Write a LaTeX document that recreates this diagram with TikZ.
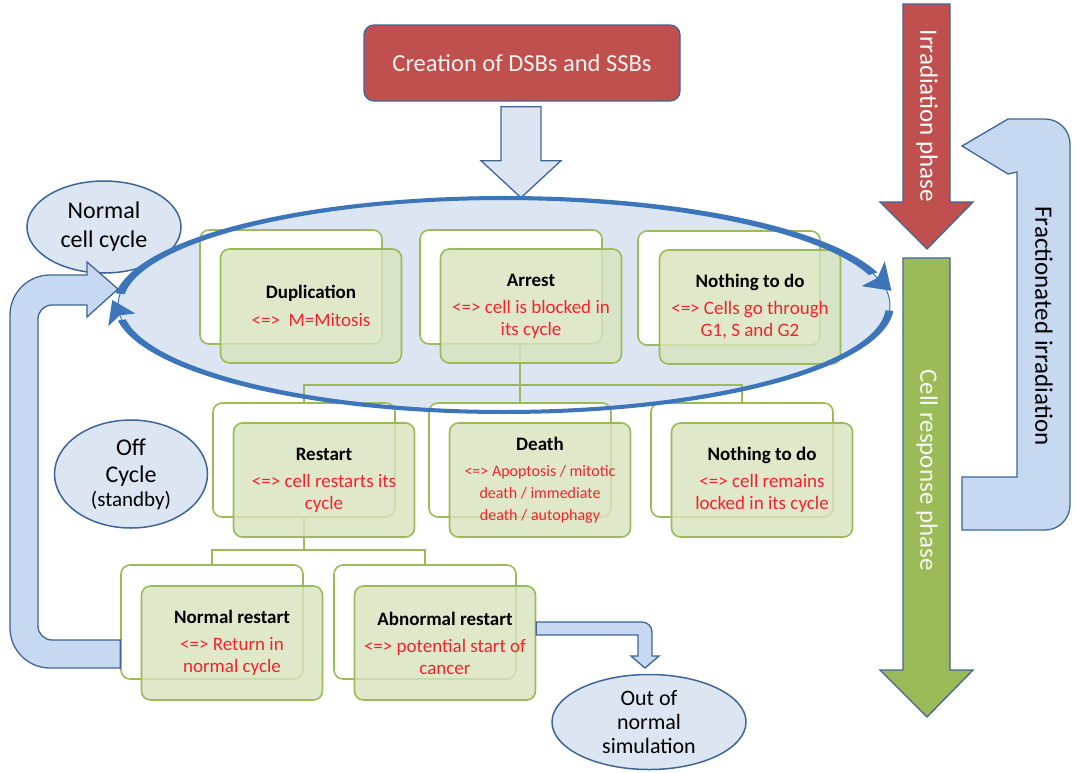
\documentclass[tikz,border=0pt]{standalone}
\usepackage{fontspec}
\setmainfont{Carlito}
\usetikzlibrary{arrows.meta,calc,shapes.geometric}
\definecolor{redfill}{HTML}{C0504D}
\definecolor{greenfill}{HTML}{9BBB59}
\definecolor{edgeblue}{HTML}{3F6597}
\definecolor{lightblue}{HTML}{DCE6F2}
\definecolor{bentblue}{HTML}{C6D9F1}
\definecolor{arcblue}{HTML}{3D75BA}
\definecolor{boxgreen}{HTML}{9BBB59}
\definecolor{boxfill}{HTML}{D7E4BD}
\definecolor{txtred}{HTML}{F5222D}
\newcommand\rdt{\color{txtred}}
\newcommand\smallrd{\fontsize{16}{17}\selectfont\color{txtred}}
\tikzset{
  declare function={ttop(\t)=9-5*sin((\t-186)*1.1465); tbot(\t)=8-4*sin((\t-3)*1.0651);},
  backbox/.style={draw=boxgreen, line width=1.6pt, fill=white, rounded corners=9pt,
    minimum width=182pt, minimum height=114pt, inner sep=0pt},
  frontbox/.style={draw=boxgreen, line width=1.6pt, fill=boxfill, fill opacity=0.8,
    text opacity=1, rounded corners=9pt, minimum width=181pt, minimum height=114pt,
    align=center, inner sep=0pt, font=\fontsize{19}{22}\selectfont},
  conn/.style={draw=boxgreen, line width=1.6pt},
  oval/.style={ellipse, draw=edgeblue, line width=1.5pt, fill=lightblue, align=center,
    font=\fontsize{24}{29}\selectfont, inner sep=0pt},
  blockarrow/.style={draw=edgeblue, line width=1.3pt, line join=miter},
  redbox/.style={rounded corners=10pt, fill=redfill, draw=edgeblue, line width=1.3pt,
    minimum width=316pt, minimum height=76pt, text=white!92!redfill,
    font=\fontsize{24.5}{28}\selectfont},
  vlabel/.style={rotate=-90, font=\fontsize{25}{28}\selectfont}
}
\begin{document}
\begin{tikzpicture}[x=1pt,y=1pt,yscale=-1]
\useasboundingbox (0,0) rectangle (1076,772);

% top red box and its arrow
\node[redbox] (crt) at (522,63) {Creation of DSBs and SSBs};
\draw[blockarrow, fill=lightblue] ($(crt.south)+(-21,5)$) -- ++(40,0) -- ++(0,54)
  -- ++(20,0) -- ++(-40,37) -- ++(-40,-37) -- ++(20,0) -- cycle;

% big cycle ellipse
\node[ellipse, draw=arcblue, line width=1pt, fill=lightblue, minimum width=772pt,
  minimum height=214pt, inner sep=0pt] (cyc) at (504,305) {};

% small ellipses
\node[oval, minimum width=154pt, minimum height=92pt] (ncc) at (104,227) {Normal\\cell cycle};
\node[oval, minimum width=153pt, minimum height=108pt, font=\fontsize{24}{27}\selectfont] (off) at (131,474)
  {Off\\Cycle\\[-3pt]\fontsize{21}{24}\selectfont (standby)};
\node[oval, minimum width=194pt, minimum height=95pt, font=\fontsize{22}{24}\selectfont]
  (out) at (649,722) {Out of\\normal\\simulation};

% back boxes
\node[backbox] (dupB) at (291,287) {};
\node[backbox] (arrB) at (511,287) {};
\node[backbox] (ntdB) at (729,288) {};
\node[backbox] (rstB) at (304,460) {};
\node[backbox] (dthB) at (520,460) {};
\node[backbox] (nt2B) at (742,460) {};
\node[backbox] (nrB) at (212,622) {};
\node[backbox] (abB) at (425,622) {};

% connectors
\coordinate (j1) at (520,385);
\coordinate (j2) at (304,550);
\draw[conn] (arrB.south -| dthB.north) -- (dthB.north);
\draw[conn] (rstB.north) |- (j1) -| (nt2B.north);
\draw[conn] (rstB.south) -- (j2);
\draw[conn] (nrB.north) |- (j2) -| (abB.north);

% front boxes
\node[frontbox] (dup) at (311,306) {\textbf{Duplication}\\[6pt]\rdt <=>\ \ M=Mitosis};
\node[frontbox] (arr) at (531,306) {\textbf{Arrest}\\[5pt]\rdt <=> cell is blocked in\\\rdt its cycle};
\node[frontbox] (ntd) at (750,307) {\textbf{Nothing to do}\\[5pt]\rdt <=> Cells go through\\\rdt G1, S and G2};
\node[frontbox] (rst) at (324,480) {\textbf{Restart}\\[5pt]\rdt <=> cell restarts its\\\rdt cycle};
\node[frontbox] (dth) at (540,480) {\textbf{Death}\\[4pt]%
  \smallrd <=> Apoptosis / mitotic\\\smallrd death / immediate\\\smallrd death / autophagy};
\node[frontbox] (nt2) at (762,480) {\textbf{Nothing to do}\\[5pt]\rdt <=> cell remains\\\rdt locked in its cycle};
\node[frontbox] (nr) at (232,643) {\textbf{Normal restart}\\[5pt]\rdt <=> Return in\\\rdt normal cycle};
\node[frontbox] (ab) at (445,643) {\textbf{Abnormal restart}\\[5pt]\rdt <=> potential start of\\\rdt cancer};

% cycle arrows on the ellipse (tapered bodies + barbed heads)
\fill[arcblue] plot[domain=186:343, samples=100]
    ({504+(386+0.5*ttop(\x))*cos(\x)}, {305+(107+0.5*ttop(\x))*sin(\x)})
  -- plot[domain=343:186, samples=100]
    ({504+(386-0.5*ttop(\x))*cos(\x)}, {305+(107-0.5*ttop(\x))*sin(\x)}) -- cycle;
\coordinate (tp) at ($(cyc.center)+(343:386pt and 107pt)$);
\coordinate (tq) at ($(cyc.center)+(344:386pt and 107pt)$);
\fill[arcblue] ($(tp)!17pt!90:(tq)$) -- ($(tp)!25pt!(tq)$) -- ($(tp)!17pt!-90:(tq)$)
  -- ($(tp)!6pt!(tq)$) -- cycle;
\fill[arcblue] plot[domain=3:172, samples=100]
    ({504+(386+0.5*tbot(\x))*cos(\x)}, {305+(107+0.5*tbot(\x))*sin(\x)})
  -- plot[domain=172:3, samples=100]
    ({504+(386-0.5*tbot(\x))*cos(\x)}, {305+(107-0.5*tbot(\x))*sin(\x)}) -- cycle;
\coordinate (bp) at ($(cyc.center)+(172:386pt and 107pt)$);
\coordinate (bq) at ($(cyc.center)+(173:386pt and 107pt)$);
\fill[arcblue] ($(bp)!15pt!90:(bq)$) -- ($(bp)!22pt!(bq)$) -- ($(bp)!15pt!-90:(bq)$)
  -- ($(bp)!5pt!(bq)$) -- cycle;

% big return arrow from normal restart to the cycle
\draw[blockarrow, fill=bentblue] (nrB.west |- 0,668) -- (50,668)
  arc[start angle=90, end angle=180, radius=40pt] -- (10,315)
  arc[start angle=180, end angle=270, radius=40pt] -- (87,275) -- (87,262)
  -- (118,289) -- (87,317) -- (87,305) -- (52,305)
  arc[start angle=270, end angle=180, radius=14pt] -- (38,626)
  arc[start angle=180, end angle=90, radius=14pt] -- (nrB.west |- 0,640) -- cycle;

% arrow from abnormal restart to out of simulation
\draw[blockarrow, fill=bentblue] (ab.east |- 0,622) -- (642,622)
  arc[start angle=270, end angle=360, radius=10pt] -- (652,656) -- (659,656)
  -- (645,668) -- (631,656) -- (638,656) -- (638,635) -- (ab.east |- 0,635) -- cycle;

% right side phase arrows
\draw[blockarrow, fill=redfill] (903,4) -- (950,4) -- (950,202) -- (973,202)
  -- (927,249) -- (880,202) -- (903,202) -- cycle;
\node[vlabel, text=white] (irr) at (927,116) {Irradiation phase};
\draw[blockarrow, fill=greenfill] (903,258) -- (950,258) -- (950,670) -- (973,670)
  -- (927,717) -- (880,670) -- (903,670) -- cycle;
\node[vlabel, text=white!92!greenfill] (resp) at (927,470) {Cell response phase};

% fractionated irradiation loop
\draw[blockarrow, fill=bentblue] (1008,119) -- (1045,119)
  arc[start angle=270, end angle=360, radius=25pt] -- (1070,505)
  arc[start angle=0, end angle=90, radius=25pt] -- (962,530) -- (962,477)
  -- (1017,477) -- (1017,172) -- (1008,174) -- (962,146) -- cycle;
\node[vlabel, text=black] (frac) at (1044,326) {Fractionated irradiation};
\end{tikzpicture}
\end{document}
